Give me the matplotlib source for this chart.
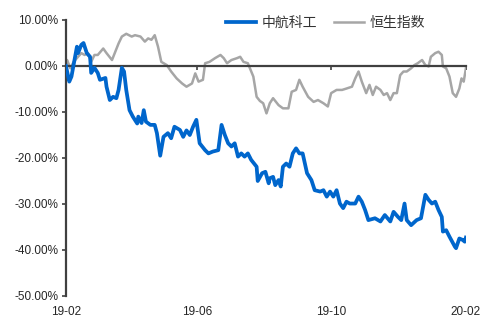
import numpy as np
import pandas as pd
import matplotlib
matplotlib.use("Agg")
import matplotlib.pyplot as plt

plt.rcParams['font.family'] = ['Liberation Sans', 'Noto Sans CJK SC', 'DejaVu Sans']

# 日期：距 2019-02-01 的天数；数值：累计涨跌幅 (%)
start = pd.Timestamp('2019-02-01')

avic_days = [0, 3, 5, 10, 11, 14, 16, 19, 22, 23, 26, 29, 31, 36, 37, 40, 43, 46, 48, 51,
             53, 55, 58, 61, 65, 66, 69, 71, 73, 77, 81, 83, 86, 89, 93, 96, 99, 104, 107, 110,
             113, 116, 119, 122, 127, 130, 134, 139, 142, 145, 148, 151, 154, 157, 160, 163, 166, 169, 174, 175,
             179, 182, 185, 186, 189, 191, 194, 196, 198, 201, 204, 207, 210, 213, 216, 220, 224, 227, 232, 235,
             238, 241, 244, 247, 250, 253, 256, 259, 264, 267, 270, 273, 276, 282, 287, 291, 296, 299, 303, 306,
             309, 311, 315, 320, 324, 328, 331, 334, 337, 340, 343, 344, 347, 350, 355, 356, 359, 362, 364, 365]
avic_vals = [0, -3.4, -2.3, 4.2, 2.8, 4.6, 5.0, 2.8, 2.0, -1.5, -0.4, -1.5, -3.0, -2.6, -4.5, -7.4, -6.7, -7.0, -5.2, -0.4,
             -1.2, -5.2, -9.6, -11.0, -12.5, -11.0, -12.4, -9.6, -12.1, -12.8, -12.8, -14.6, -19.5, -15.4, -14.6, -15.7, -13.2, -13.9, -15.4, -14.0,
             -15.0, -13.2, -11.7, -16.8, -18.3, -19.0, -18.6, -18.3, -12.8, -15.0, -16.8, -17.5, -16.8, -19.7, -19.0, -19.7, -19.0, -20.4, -21.9, -25.0,
             -23.3, -23.0, -25.5, -24.4, -24.1, -25.9, -24.8, -26.2, -21.9, -21.2, -21.9, -19.0, -17.9, -19.0, -19.0, -23.3, -24.8, -27.0, -27.3, -27.0,
             -28.4, -27.3, -28.4, -27.0, -29.9, -30.9, -29.5, -29.9, -29.9, -28.4, -29.5, -31.3, -33.5, -33.1, -33.8, -32.4, -33.8, -31.7, -32.8, -33.5,
             -29.9, -33.5, -34.6, -33.5, -33.1, -28.0, -29.1, -29.9, -29.5, -31.3, -32.8, -36.0, -35.7, -37.1, -39.3, -39.6, -37.5, -37.8, -38.2, -37.3]

hsi_days = [0, 1, 4, 7, 11, 14, 17, 20, 23, 26, 29, 34, 37, 42, 45, 48, 51, 55, 60, 63,
            68, 72, 75, 78, 81, 84, 87, 92, 96, 101, 106, 110, 115, 118, 121, 125, 127, 131, 136, 141,
            144, 147, 151, 156, 159, 162, 166, 171, 174, 177, 180, 183, 186, 189, 194, 198, 203, 206, 210, 213,
            216, 221, 226, 230, 235, 239, 242, 247, 252, 256, 261, 264, 267, 270, 274, 277, 280, 283, 287, 290,
            293, 296, 299, 302, 305, 308, 311, 315, 318, 321, 325, 328, 331, 333, 337, 340, 343, 344, 347, 350,
            353, 356, 359, 361, 363, 365]
hsi_vals = [0.6, 1.3, -0.5, 0.9, 2.0, 2.8, 2.4, 2.8, 0.9, 2.4, 2.4, 3.8, 2.8, 1.3, 3.1, 4.9, 6.4, 7.0, 6.4, 6.7,
            6.4, 5.3, 6.0, 5.7, 6.7, 4.2, 0.9, 0.2, -1.2, -2.7, -3.8, -4.5, -3.8, -1.6, -3.4, -3.0, 0.6, 0.9, 1.7, 2.4,
            1.7, 0.6, 1.3, 1.7, 2.0, 0.9, 0.6, -2.3, -6.7, -7.6, -8.1, -10.3, -8.1, -7.0, -8.5, -9.2, -9.2, -5.6, -5.2, -3.0,
            -4.5, -6.7, -7.8, -7.4, -8.1, -8.8, -5.9, -5.2, -5.2, -4.9, -4.5, -2.7, -1.2, -3.4, -5.9, -4.1, -6.3, -4.5, -5.2, -6.3,
            -5.9, -7.4, -5.9, -5.9, -2.0, -1.2, -1.2, -0.5, 0.2, 0.6, 1.3, 0.2, -0.1, 2.0, 2.8, 3.1, 2.4, -0.1, -0.5, -2.3,
            -5.9, -6.7, -4.9, -2.7, -3.4, -0.5]

tick_dates = ['2019-02-01', '2019-06-01', '2019-10-01', '2020-02-01']
tick_labels = ['19-02', '19-06', '19-10', '20-02']
y_ticks = [10, 0, -10, -20, -30, -40, -50]

avic_dates = start + pd.to_timedelta(avic_days, unit='D')
hsi_dates = start + pd.to_timedelta(hsi_days, unit='D')
ticks = pd.to_datetime(tick_dates)

fig = plt.figure(figsize=(4.83, 3.2), dpi=100)
ax = fig.add_axes([0.1366, 0.075, 0.828, 0.8625])

l2, = ax.plot(hsi_dates, hsi_vals, color='#A6A6A6', lw=1.8, zorder=2, label='恒生指数')
l1, = ax.plot(avic_dates, avic_vals, color='#0066CC', lw=2.7, zorder=3, label='中航科工')

ax.set_ylim(-50, 10)
ax.set_xlim(ticks[0], ticks[-1])
ax.set_yticks(y_ticks)
ax.set_yticklabels([f'{v:.2f}%' for v in y_ticks], fontsize=8.5, color='#262626')

for s in ['top', 'right']:
    ax.spines[s].set_visible(False)
ax.spines['left'].set_color('#404040')
ax.spines['left'].set_linewidth(1.6)
ax.spines['bottom'].set_position(('data', 0))
ax.spines['bottom'].set_color('#404040')
ax.spines['bottom'].set_linewidth(1.6)

ax.tick_params(axis='y', direction='out', length=3, width=1.2, color='#404040', pad=2.5)
ax.set_xticks(ticks)
ax.tick_params(axis='x', direction='out', length=3, width=1.2, color='#404040', labelbottom=False)

sec = ax.secondary_xaxis('bottom')
sec.set_xticks(ticks)
sec.set_xticklabels(tick_labels, fontsize=8.5, color='#262626')
sec.spines['bottom'].set_visible(False)
sec.tick_params(length=0, pad=7)

leg = ax.legend(handles=[l1, l2], loc='upper right', bbox_to_anchor=(0.93, 1.06), ncol=2, frameon=False,
                prop={'family': ['Noto Sans CJK SC'], 'size': 10}, handlelength=2.2, columnspacing=1.2,
                handletextpad=0.4)
for t in leg.get_texts():
    t.set_color('#333333')

fig.savefig('out.png', dpi=100)
